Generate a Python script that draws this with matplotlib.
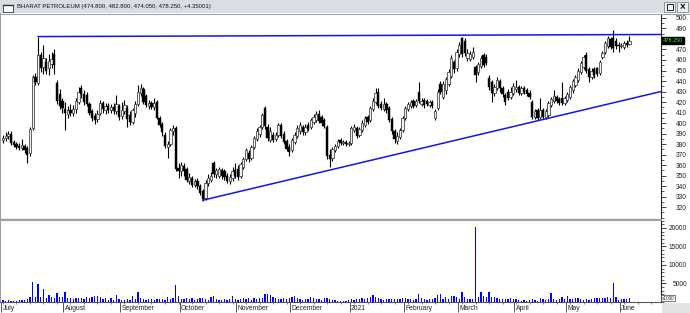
import numpy as np
import matplotlib
matplotlib.use('Agg')
import matplotlib.pyplot as plt
import matplotlib.transforms as mtransforms
from matplotlib.patches import Rectangle
from matplotlib.ticker import MultipleLocator

plt.rcParams['font.family'] = ['Liberation Sans', 'DejaVu Sans']

# trading days per month, July 2020 .. June 2021
month_names = ['July', 'August', 'September', 'October', 'November', 'December',
               '2021', 'February', 'March', 'April', 'May', 'June']
month_days = [23, 21, 22, 21, 20, 22, 20, 20, 21, 19, 20, 4]

opens = [384, 386, 388, 390, 382, 380, 378, 376, 378, 376, 371, 395, 444, 438, 465, 453, 458, 452, 456, 466, 438, 428, 421,
         413, 409, 412, 410, 413, 420, 433, 428, 427, 418, 411, 407, 404, 410, 419, 412, 416, 412, 415, 411, 416,
         407, 411, 414, 408, 401, 410, 418, 429, 432, 426, 416, 419, 415, 420, 405, 399, 389, 377, 380, 392, 395, 357,
         354, 359, 356, 345, 348, 341, 345, 340, 335, 329, 343, 346, 362, 351, 350, 355, 354, 350, 345, 348, 355,
         356, 350, 358, 366, 371, 367, 377, 385, 390, 396, 414, 396, 384, 389, 385, 389, 398, 390, 383, 377,
         374, 382, 388, 392, 396, 391, 398, 396, 401, 403, 409, 406, 403, 396, 370, 367, 374, 378, 384, 381, 382, 380,
         381, 393, 395, 389, 393, 398, 406, 403, 413, 420, 430, 418, 413, 418, 414, 404, 392, 383, 387, 393,
         405, 413, 416, 421, 417, 430, 418, 422, 421, 417, 420, 405, 414, 437, 425, 431, 437, 445, 458, 452,
         466, 481, 478, 462, 461, 463, 453, 449, 454, 465, 463, 443, 439, 429, 433, 440, 433, 427, 430, 425, 429,
         432, 434, 429, 433, 431, 429, 420, 406, 412, 406, 412, 406, 408, 417, 421, 425, 423, 424, 419,
         422, 425, 431, 436, 441, 449, 453, 465, 451, 444, 451, 452, 448, 463, 468, 473, 480, 481, 478, 474,
         473, 472, 476, 474.8]
highs = [389, 391, 392, 392, 384, 382, 381, 385, 380, 378, 396, 446, 448, 482, 468, 474, 462, 466, 468, 470, 441, 432, 424,
         420, 416, 418, 417, 424, 434, 436, 431, 430, 420, 413, 410, 412, 422, 421, 419, 419, 418, 419, 427, 418,
         420, 422, 417, 411, 414, 421, 436, 437, 434, 428, 422, 421, 424, 422, 407, 401, 391, 383, 395, 398, 397, 362,
         363, 362, 358, 352, 350, 347, 348, 342, 337, 346, 351, 353, 364, 357, 358, 357, 356, 352, 351, 358, 362,
         360, 363, 368, 376, 374, 379, 388, 395, 398, 410, 416, 399, 396, 391, 391, 400, 400, 392, 385, 380,
         386, 391, 398, 401, 398, 399, 401, 405, 409, 411, 412, 408, 405, 398, 375, 377, 380, 385, 386, 384, 384, 383,
         397, 399, 397, 396, 403, 407, 408, 416, 424, 433, 433, 421, 424, 420, 416, 406, 394, 391, 395, 407,
         416, 420, 422, 423, 423, 439, 424, 424, 423, 422, 422, 413, 432, 440, 440, 444, 451, 465, 460, 470,
         477, 482, 481, 470, 469, 472, 455, 458, 464, 467, 466, 446, 441, 437, 444, 442, 435, 429, 432, 434, 438,
         441, 436, 435, 435, 433, 431, 422, 413, 414, 424, 414, 413, 421, 425, 431, 427, 425, 439, 426,
         430, 436, 442, 446, 452, 459, 465, 468, 453, 452, 453, 453, 460, 469, 478, 483, 482, 489, 481, 477,
         476, 478, 479, 482.8]
lows = [381, 383, 385, 379, 377, 375, 374, 374, 371, 362, 369, 393, 436, 436, 449, 447, 447, 446, 452, 447, 418, 413, 410,
        393, 405, 407, 407, 410, 418, 424, 417, 416, 408, 402, 399, 401, 408, 410, 409, 410, 410, 409, 409, 403,
        404, 409, 396, 398, 399, 406, 416, 426, 418, 415, 413, 413, 412, 404, 396, 388, 376, 367, 378, 389, 354, 348,
        350, 350, 344, 342, 339, 339, 337, 331, 326, 327, 340, 344, 349, 348, 348, 347, 346, 343, 342, 345, 348,
        346, 348, 356, 364, 363, 365, 375, 383, 387, 394, 394, 383, 382, 382, 383, 387, 386, 380, 373, 369,
        372, 380, 386, 390, 389, 389, 392, 394, 399, 401, 400, 397, 395, 366, 358, 364, 372, 376, 379, 379, 378, 378,
        379, 391, 386, 387, 391, 396, 399, 401, 411, 418, 414, 412, 411, 410, 401, 390, 381, 380, 385, 391,
        403, 411, 414, 414, 415, 419, 416, 414, 416, 415, 414, 403, 412, 428, 423, 428, 435, 443, 448, 450,
        463, 463, 464, 459, 459, 461, 439, 446, 452, 453, 455, 431, 420, 426, 431, 430, 425, 417, 422, 423, 427,
        430, 427, 427, 428, 426, 423, 404, 404, 403, 404, 404, 404, 406, 415, 419, 419, 417, 417, 417,
        420, 423, 429, 434, 439, 447, 451, 448, 439, 442, 443, 445, 446, 461, 466, 471, 470, 468, 470, 468,
        471, 470, 472, 474.05]
closes = [386, 388, 390, 381, 379, 377, 376, 379, 374, 370, 394, 444, 439, 465, 452, 462, 450, 459, 461, 455, 421, 416, 414,
          410, 412, 410, 413, 421, 430, 428, 420, 418, 410, 405, 403, 409, 419, 413, 416, 412, 415, 411, 418, 406,
          412, 417, 404, 401, 412, 418, 430, 433, 420, 417, 419, 415, 419, 405, 398, 391, 378, 380, 393, 395, 356, 354,
          360, 354, 346, 349, 341, 345, 340, 333, 328, 343, 348, 350, 351, 355, 356, 350, 349, 345, 349, 354, 350,
          349, 361, 366, 374, 366, 377, 386, 392, 396, 408, 397, 386, 392, 384, 389, 398, 388, 382, 375, 372,
          384, 389, 395, 398, 391, 396, 394, 403, 406, 409, 402, 400, 397, 369, 366, 375, 378, 383, 381, 382, 380, 381,
          395, 396, 388, 394, 400, 405, 401, 414, 421, 429, 416, 414, 418, 412, 403, 392, 385, 388, 393, 405,
          414, 418, 420, 416, 421, 421, 421, 417, 418, 420, 416, 411, 430, 430, 437, 442, 449, 462, 451, 468,
          474, 466, 467, 467, 466, 468, 446, 456, 462, 455, 457, 434, 429, 434, 441, 433, 428, 420, 424, 430, 435,
          434, 429, 433, 430, 428, 425, 406, 411, 405, 412, 406, 411, 419, 423, 426, 421, 419, 419, 424,
          428, 434, 440, 444, 450, 457, 463, 450, 444, 450, 446, 447, 458, 467, 476, 481, 472, 471, 473, 473,
          474, 476, 473.9, 478.25]
# volume, shown in thousands (axis marked x1000)
volumes = [400, 300, 350, 300, 250, 300, 500, 350, 400, 700, 1200, 5300, 1200, 4900, 1200, 3500, 950, 1900, 1400, 950, 2350, 1200, 1200,
           2500, 950, 950, 660, 1130, 950, 940, 660, 1220, 940, 1220, 1600, 1600, 1220, 660, 940, 470, 940, 470, 1880, 660,
           470, 470, 660, 470, 1600, 660, 2540, 940, 660, 470, 850, 660, 470, 850, 660, 660, 470, 1220, 660, 940, 4400, 1600,
           660, 850, 940, 660, 1130, 470, 660, 940, 1130, 660, 470, 1220, 1600, 660, 470, 470, 660, 470, 850, 1600, 660,
           470, 660, 1130, 660, 940, 470, 940, 660, 940, 1130, 2160, 2160, 1880, 1220, 940, 850, 660, 940, 660, 940,
           1220, 1600, 940, 660, 470, 850, 850, 1220, 940, 660, 660, 470, 940, 940, 660, 470, 470, 280, 280, 280, 280, 470,
           660, 470, 660, 850, 940, 660, 940, 1220, 1880, 1220, 940, 660, 470, 660, 850, 660, 850, 660, 850, 1130,
           940, 850, 660, 470, 850, 2160, 940, 660, 470, 660, 850, 940, 1880, 2160, 850, 1220, 660, 1600, 1600, 1410,
           850, 2540, 1220, 660, 850, 660, 20300, 1220, 2630, 1600, 1410, 2730, 1410, 1410, 940, 660, 850, 660, 850, 940, 660,
           660, 470, 280, 470, 280, 470, 660, 470, 280, 940, 660, 470, 660, 2350, 660, 470, 850, 1220, 660,
           1600, 850, 660, 1030, 940, 660, 470, 850, 470, 850, 940, 1030, 1030, 1030, 1030, 1220, 1100, 5200, 1220, 470,
           660, 660, 850, 940]

price_ticks = list(range(320, 501, 10))
volume_ticks = [5000, 10000, 15000, 20000]

trend_top_x = [13, 243.7]
trend_top_y = [482.3, 484.3]
trend_low_x = [74, 243.7]
trend_low_y = [326.5, 430]

title = 'BHARAT PETROLEUM (474.800, 482.800, 474.050, 478.250, +4.35001)'

W, H = 690, 313


def frac(x0, y0, x1, y1):
    return [x0 / W, 1 - y1 / H, (x1 - x0) / W, (y1 - y0) / H]


fig = plt.figure(figsize=(W / 100, H / 100), dpi=100)
fig.patch.set_facecolor('white')

ax = fig.add_axes(frac(0, 14, 661, 219))
axv = fig.add_axes(frac(0, 220, 661, 302))

o = np.array(opens, dtype=float)
hi = np.array(highs, dtype=float)
lo = np.array(lows, dtype=float)
c = np.array(closes, dtype=float)
idx = np.arange(len(c))
up = c >= o

# candles
ax.vlines(idx, lo, hi, color='black', linewidth=0.8, zorder=2)
ax.bar(idx[up], (c - o)[up], bottom=o[up], width=0.85, facecolor='#f2f2f2',
       edgecolor='#4a4a4a', linewidth=0.6, zorder=3)
ax.bar(idx[~up], (o - c)[~up], bottom=c[~up], width=0.85, color='black',
       linewidth=0.3, edgecolor='black', zorder=3)

# trend lines
ax.plot(trend_top_x, trend_top_y, color='#1414f0', linewidth=1.1, zorder=4)
ax.plot(trend_low_x, trend_low_y, color='#1414f0', linewidth=1.1, zorder=4)

xmin, xmax = -1.11, 243.7
ax.set_xlim(xmin, xmax)
ax.set_ylim(308.6, 503.8)
ax.yaxis.tick_right()
# the 480 label sits under the last-price tag
ax.set_yticks(price_ticks, ['' if t == 480 else str(t) for t in price_ticks])
ax.yaxis.set_minor_locator(MultipleLocator(5))
ax.tick_params(axis='y', which='major', direction='out', length=3.6, width=0.6,
               labelsize=4.8, pad=15, colors='#222222')
ax.tick_params(axis='y', which='minor', direction='out', length=2.0, width=0.5, colors='#222222')
for lbl in ax.get_yticklabels():
    lbl.set_horizontalalignment('right')
ax.tick_params(axis='x', which='both', bottom=False, labelbottom=False)
ax.spines['top'].set_visible(False)
ax.spines['left'].set_color('#a0a0a0')
ax.spines['left'].set_linewidth(1.5)
ax.spines['bottom'].set_color('#a8a8a8')
ax.spines['bottom'].set_linewidth(1.0)
ax.spines['right'].set_color('#222222')
ax.spines['right'].set_linewidth(0.8)

# last price tag
ax.annotate('%.3f' % c[-1], xy=(1.0, c[-1]), xycoords=('axes fraction', 'data'),
            xytext=(1.3, 0), textcoords='offset points', ha='left', va='center',
            fontsize=4.0, color='#3ee63e', annotation_clip=False, zorder=10,
            bbox=dict(boxstyle='square,pad=0.2', facecolor='black', edgecolor='black'))

# volume
axv.bar(idx, volumes, width=0.5, color='#0000ff', linewidth=0)
axv.set_xlim(xmin, xmax)
axv.set_ylim(-81, 22170)
axv.yaxis.tick_right()
axv.set_yticks(volume_ticks, [str(t) for t in volume_ticks])
axv.yaxis.set_minor_locator(MultipleLocator(1000))
axv.tick_params(axis='y', which='major', direction='out', length=3.6, width=0.6,
                labelsize=4.8, pad=15, colors='#222222')
axv.tick_params(axis='y', which='minor', direction='out', length=1.8, width=0.5, colors='#222222')
for lbl in axv.get_yticklabels():
    lbl.set_horizontalalignment('right')

starts = np.concatenate([[0], np.cumsum(month_days)[:-1]]) - 0.6
axv.set_xticks(starts)
axv.set_xticklabels([''] * len(starts))
axv.xaxis.set_minor_locator(MultipleLocator(5))
axv.tick_params(axis='x', which='major', direction='out', length=7, width=0.7, colors='#555555')
axv.tick_params(axis='x', which='minor', direction='out', length=1.6, width=0.5, colors='#555555')
trans = mtransforms.blended_transform_factory(axv.transData, axv.transAxes)
for pos, name in zip(starts, month_names):
    axv.text(pos + 0.5, -0.075, name, transform=trans, fontsize=4.9,
             ha='left', va='center', color='#222222', clip_on=False)

axv.spines['top'].set_color('#a0a0a0')
axv.spines['top'].set_linewidth(1.5)
axv.spines['left'].set_color('#a0a0a0')
axv.spines['left'].set_linewidth(1.5)
axv.spines['bottom'].set_color('#555555')
axv.spines['bottom'].set_linewidth(0.8)
axv.spines['right'].set_color('#222222')
axv.spines['right'].set_linewidth(0.8)

fig.text(662 / W, 1 - 298 / H, 'x1000', fontsize=3.4, ha='left', va='center',
         color='#222222',
         bbox=dict(boxstyle='square,pad=0.15', facecolor='white', edgecolor='#444444', linewidth=0.5))

# bottom-right corner
fig.add_artist(Rectangle((661.5 / W, 0), 28.5 / W, 10 / H, transform=fig.transFigure,
                         facecolor='#e4e4e4', edgecolor='none'))

# window title bar
fig.add_artist(Rectangle((0, 1 - 13 / H), 1, 13 / H, transform=fig.transFigure,
                         facecolor='#d9dde4', edgecolor='none'))
fig.add_artist(plt.Line2D([0, 1], [1 - 13.5 / H, 1 - 13.5 / H], transform=fig.transFigure,
                          color='#a0a4aa', linewidth=0.8))
fig.add_artist(Rectangle((3 / W, 1 - 12 / H), 10 / W, 7 / H, transform=fig.transFigure,
                         facecolor='white', edgecolor='#333333', linewidth=0.6))
fig.add_artist(plt.Line2D([3 / W, 13 / W], [1 - 5.3 / H, 1 - 5.3 / H], transform=fig.transFigure,
                          color='#333333', linewidth=1.0))
fig.text(17 / W, 1 - 6.5 / H, title, fontsize=4.3, ha='left', va='center', color='#111111')

for bx in (664, 677):
    fig.add_artist(Rectangle((bx / W, 1 - 12 / H), 11 / W, 10 / H, transform=fig.transFigure,
                             facecolor='#eef0f3', edgecolor='#777777', linewidth=0.5))
fig.add_artist(Rectangle((666.5 / W, 1 - 10 / H), 6 / W, 6 / H, transform=fig.transFigure,
                         facecolor='none', edgecolor='#222222', linewidth=0.7))
fig.text(682.5 / W, 1 - 7 / H, '×', fontsize=7, ha='center', va='center',
         color='#111111', fontweight='bold')

fig.savefig('out.png', dpi=100)
